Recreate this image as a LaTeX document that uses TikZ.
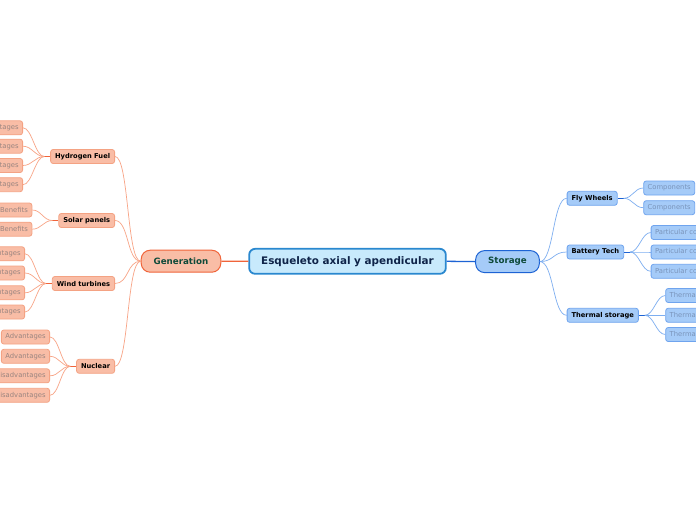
\documentclass[tikz,border=0pt]{standalone}
\usepackage{fontspec}
\setmainfont{DejaVu Sans}
\definecolor{rootfill}{HTML}{C8EAFC}
\definecolor{rootdraw}{HTML}{2A88CF}
\definecolor{roottext}{HTML}{0F2449}
\definecolor{ofill}{HTML}{F9BDA6}
\definecolor{odraw}{HTML}{F0643A}
\definecolor{osub}{HTML}{F4A283}
\definecolor{oline}{HTML}{F8A486}
\definecolor{oleaf}{HTML}{9A8580}
\definecolor{bfill}{HTML}{A5CBF8}
\definecolor{bdraw}{HTML}{1D63D4}
\definecolor{bsub}{HTML}{6FA4EE}
\definecolor{bline}{HTML}{7DAEF0}
\definecolor{bleaf}{HTML}{7A94BA}
\definecolor{dgreen}{HTML}{0E4A3A}
\tikzset{
  rootbox/.style={draw=rootdraw, line width=1.8pt, fill=rootfill, rounded corners=6pt,
    minimum height=25pt, inner xsep=12pt, inner ysep=0pt, text=roottext,
    font=\fontsize{10.4}{12}\selectfont\bfseries},
  mainbox/.style={line width=1pt, rounded corners=9pt, minimum height=22pt,
    inner xsep=12.5pt, inner ysep=0pt, text=dgreen,
    font=\fontsize{8.7}{10}\selectfont\bfseries},
  genbox/.style={mainbox, draw=odraw, fill=ofill},
  stobox/.style={mainbox, draw=bdraw, fill=bfill},
  subbox/.style={line width=0.8pt, rounded corners=2.5pt, minimum height=14pt,
    inner xsep=4.5pt, inner ysep=0pt, text=black,
    font=\fontsize{6.7}{8}\selectfont\bfseries},
  osubbox/.style={subbox, draw=osub, fill=ofill},
  bsubbox/.style={subbox, draw=bsub, fill=bfill},
  leafbox/.style={line width=0.8pt, rounded corners=2.5pt, minimum height=14pt,
    inner xsep=4pt, inner ysep=0pt, font=\fontsize{6.8}{8}\selectfont},
  oleafbox/.style={leafbox, draw=osub, fill=ofill, text=oleaf, anchor=east},
  bleafbox/.style={leafbox, draw=bsub, fill=bfill, text=bleaf, anchor=west},
  olink/.style={draw=oline, line width=0.7pt},
  blink/.style={draw=bline, line width=0.7pt},
}
\begin{document}
\begin{tikzpicture}[x=1pt,y=-1pt]
\useasboundingbox (0,0) rectangle (696,520);
\fill[white] (0,0) rectangle (696,520);
\clip (0,0) rectangle (696,520);

% root and main branches
\node[rootbox] (root) at (347.5,261.3) {Esqueleto axial y apendicular};
\node[genbox] (gen) at (181,261.2) {Generation};
\node[stobox] (sto) at (507.5,261.6) {Storage};

% left sub nodes
\node[osubbox, anchor=east] (hyd) at (115,156.5) {Hydrogen Fuel};
\node[osubbox, anchor=east] (sol) at (115,220.5) {Solar panels};
\node[osubbox, anchor=east] (win) at (115,283.5) {Wind turbines};
\node[osubbox, anchor=east] (nuc) at (115,366.3) {Nuclear};

% left leaves
\node[oleafbox] (h1) at (23,127.8) {Advantages};
\node[oleafbox] (h2) at (23,146.2) {Advantages};
\node[oleafbox] (h3) at (23,165.5) {Disadvantages};
\node[oleafbox] (h4) at (23,184.7) {Disadvantages};
\node[oleafbox] (s1) at (32.3,210) {Benefits};
\node[oleafbox] (s2) at (32.3,229.2) {Benefits};
\node[oleafbox] (w1) at (25,253.8) {Advantages};
\node[oleafbox] (w2) at (25,273) {Advantages};
\node[oleafbox] (w3) at (25,292.8) {Disadvantages};
\node[oleafbox] (w4) at (25,312) {Disadvantages};
\node[oleafbox] (n1) at (50,337) {Advantages};
\node[oleafbox] (n2) at (50,356.3) {Advantages};
\node[oleafbox] (n3) at (50,375.8) {Disadvantages};
\node[oleafbox] (n4) at (50,395.3) {Disadvantages};

% right sub nodes
\node[bsubbox, anchor=west] (fly) at (566.7,198.3) {Fly Wheels};
\node[bsubbox, anchor=west] (bat) at (566.7,252) {Battery Tech};
\node[bsubbox, anchor=west] (the) at (566.7,315.3) {Thermal storage};

% right leaves
\node[bleafbox] (f1) at (643.3,188) {Components};
\node[bleafbox] (f2) at (643.3,207.7) {Components};
\node[bleafbox] (b1) at (650.7,232.5) {Particular components};
\node[bleafbox] (b2) at (650.7,252) {Particular components};
\node[bleafbox] (b3) at (650.7,271.3) {Particular components};
\node[bleafbox] (t1) at (665.3,295.5) {Thermal energy};
\node[bleafbox] (t2) at (665.3,315.3) {Thermal energy};
\node[bleafbox] (t3) at (665.3,334.5) {Thermal energy};

% trunk connectors
\draw[draw=odraw, line width=1.3pt] (root.west) -- (gen.east);
\draw[draw=bdraw, line width=1.3pt] (root.east) -- (sto.west);

% generation -> sub nodes
\foreach \c in {hyd,sol,win,nuc}
  \draw[olink] (gen.west) .. controls +(-14,0) and +(14,0) .. (\c.east);
% storage -> sub nodes
\foreach \c in {fly,bat,the}
  \draw[blink] (sto.east) .. controls +(14,0) and +(-14,0) .. (\c.west);

% left leaves
\draw[draw=odraw, line width=1pt] (hyd.west) -- ++(-6,0);
\foreach \l in {h1,h2,h3,h4}
  \draw[olink] (hyd.west) ++(-6,0) .. controls +(-9,0) and +(9,0) .. (\l.east);
\draw[draw=odraw, line width=1pt] (sol.west) -- ++(-6,0);
\foreach \l in {s1,s2}
  \draw[olink] (sol.west) ++(-6,0) .. controls +(-9,0) and +(9,0) .. (\l.east);
\draw[draw=odraw, line width=1pt] (win.west) -- ++(-6,0);
\foreach \l in {w1,w2,w3,w4}
  \draw[olink] (win.west) ++(-6,0) .. controls +(-9,0) and +(9,0) .. (\l.east);
\draw[draw=odraw, line width=1pt] (nuc.west) -- ++(-6,0);
\foreach \l in {n1,n2,n3,n4}
  \draw[olink] (nuc.west) ++(-6,0) .. controls +(-9,0) and +(9,0) .. (\l.east);

% right leaves
\draw[draw=bdraw, line width=1pt] (fly.east) -- ++(6,0);
\foreach \l in {f1,f2}
  \draw[blink] (fly.east) ++(6,0) .. controls +(9,0) and +(-9,0) .. (\l.west);
\draw[draw=bdraw, line width=1pt] (bat.east) -- ++(6,0);
\foreach \l in {b1,b2,b3}
  \draw[blink] (bat.east) ++(6,0) .. controls +(9,0) and +(-9,0) .. (\l.west);
\draw[draw=bdraw, line width=1pt] (the.east) -- ++(6,0);
\foreach \l in {t1,t2,t3}
  \draw[blink] (the.east) ++(6,0) .. controls +(9,0) and +(-9,0) .. (\l.west);
\end{tikzpicture}
\end{document}
